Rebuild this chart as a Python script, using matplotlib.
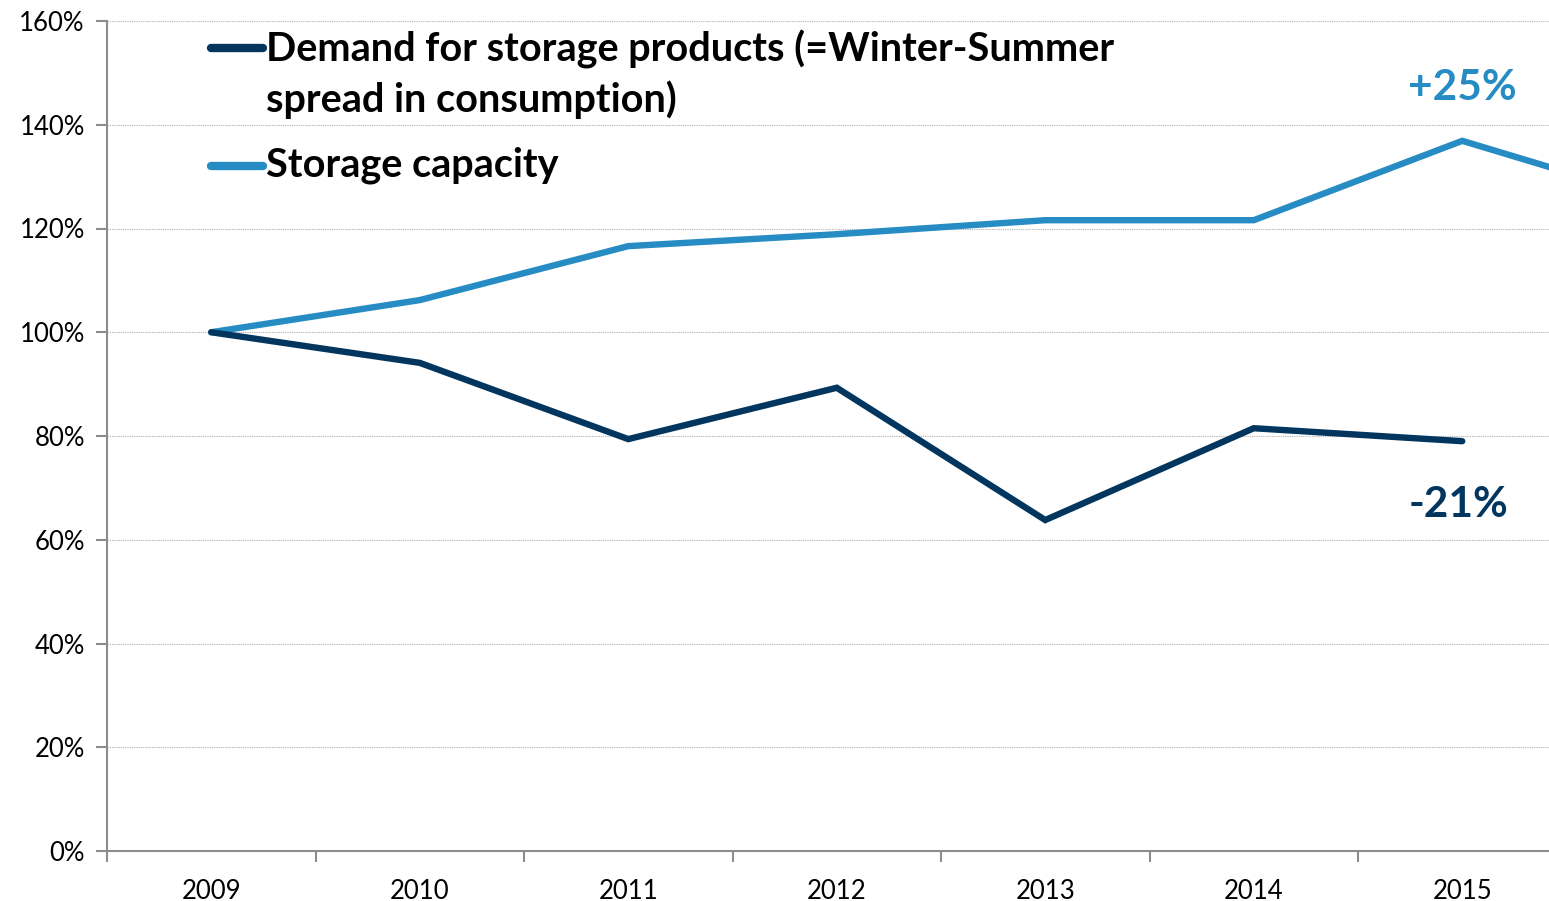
import numpy as np
import matplotlib.pyplot as plt
from matplotlib.ticker import MultipleLocator, FuncFormatter

plt.rcParams['font.family'] = ['Lato', 'DejaVu Sans']

years = ["2009", "2010", "2011", "2012", "2013", "2014", "2015"]
demand = [100, 94.1, 79.4, 89.3, 63.8, 81.5, 79.0]
# capacity runs on past 2015 and is cut off at the right edge
capacity = [100, 106.2, 116.6, 118.9, 121.6, 121.6, 136.9, 124.8]

navy = "#02365f"
blue = "#268cc3"
axisGray = "#8c8c8c"

fig = plt.figure(figsize=(15.49, 9.01), dpi=100)
ax = fig.add_axes([107/1549, 50/901, 1 - 107/1549, 830/901])

ax.plot(np.arange(len(capacity)), capacity, color=blue, lw=4.6, solid_capstyle='round', solid_joinstyle='miter', zorder=3)
ax.plot(np.arange(len(demand)), demand, color=navy, lw=4.6, solid_capstyle='round', solid_joinstyle='miter', zorder=4)

ax.set_xlim(-0.5, -0.5 + (1549 - 107) / 208.5)
ax.set_ylim(0, 160)

ax.yaxis.set_major_locator(MultipleLocator(20))
ax.yaxis.set_major_formatter(FuncFormatter(lambda v, p: "{:.0f}%".format(v)))
ax.set_xticks(np.arange(len(years)))
ax.set_xticklabels(years)
ax.set_xticks(np.arange(len(years)) - 0.5, minor=True)
ax.tick_params(axis='x', which='major', length=0, pad=20, labelsize=18.5)
ax.tick_params(axis='x', which='minor', length=8, width=1.5, color=axisGray)
ax.tick_params(axis='y', length=8, width=1.5, color=axisGray, labelsize=18.5, pad=8)

ax.grid(axis='y', color="#b0b0b0", linestyle=(0, (1, 1)), lw=0.8, zorder=0)
for s in ['top', 'right']:
    ax.spines[s].set_visible(False)
for s in ['left', 'bottom']:
    ax.spines[s].set_color(axisGray)
    ax.spines[s].set_linewidth(1.5)

# legend drawn by hand so the handle sits on the first line of the label
legendFont = dict(fontsize=28.5, fontweight='bold', color='black', ha='left', va='baseline')
ax.plot([0.0, 0.25], [154.8, 154.8], color=navy, lw=6, solid_capstyle='round', clip_on=False)
ax.text(0.262, 152.2, "Demand for storage products (=Winter-Summer", **legendFont)
ax.text(0.262, 142.5, "spread in consumption)", **legendFont)
ax.plot([0.0, 0.25], [132.0, 132.0], color=blue, lw=6, solid_capstyle='round', clip_on=False)
ax.text(0.262, 130.0, "Storage capacity", **legendFont)

ax.text(6.0, 147.1, "+25%", fontsize=30.5, fontweight='bold', color=blue, ha='center', va='center')
ax.text(5.98, 66.7, "-21%", fontsize=30.5, fontweight='bold', color=navy, ha='center', va='center')

plt.savefig('out.png', dpi=100)
